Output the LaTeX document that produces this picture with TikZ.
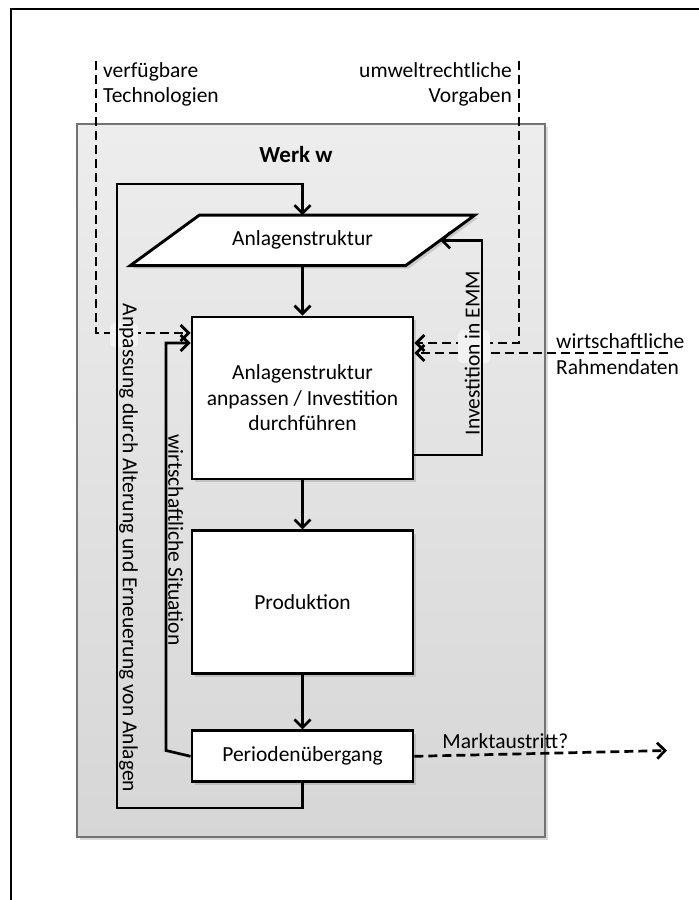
\documentclass[tikz,border=0pt]{standalone}
\usepackage{fontspec}
\setmainfont{Carlito}
\usetikzlibrary{arrows.meta,shadows,positioning}

\tikzset{
  schatten/.style={drop shadow={shadow xshift=3pt,shadow yshift=-3pt,opacity=.3}},
  box/.style={draw,line width=2.9pt,fill=white,minimum width=221pt,inner sep=0pt,align=center,schatten},
  conn/.style={line width=2.7pt,-{Straight Barb[length=8pt,width=16pt]}},
  dconn/.style={conn,dash pattern=on 9pt off 5pt},
  lbl/.style={inner sep=1pt},
}

\begin{document}
\begin{tikzpicture}[x=1pt,y=-1pt,font=\fontsize{21.5}{25.5}\selectfont]
\useasboundingbox (0,0) rectangle (699,900);
% Rahmen
\draw[line width=2.2pt] (11,900) -- (11,9) -- (699,9);
% Werk
\node[draw=black!55,line width=1.2pt,top color=black!7,bottom color=black!16,minimum width=468pt,minimum height=713pt,schatten] (werk) at (311,480.5) {};
\node[font=\fontsize{23}{27}\selectfont\bfseries] (werkname) at (296,155) {Werk w};

% Bausteine
\node[box,minimum height=162pt] (anp) at (302.5,398) {Anlagenstruktur\\anpassen / Investition\\durchführen};
\node[box,minimum height=143pt,below=49pt of anp] (prod) {Produktion};
\node[box,minimum height=51pt,below=54pt of prod] (perio) {Periodenübergang};
\node[minimum width=275pt,minimum height=50pt,inner sep=0pt,above=50pt of anp] (struk) {};
\filldraw[fill=white,line width=2.9pt,schatten] ([xshift=-34.5pt]struk.south west) -- ([xshift=34.5pt]struk.north west) -- ([xshift=34.5pt]struk.north east) -- ([xshift=-34.5pt]struk.south east) -- cycle;
\node (struktext) at (struk) {Anlagenstruktur};

% externe Einfluesse
\coordinate (techOben) at (96,61);
\coordinate (umwOben) at (519,61);
\coordinate (rahmEnde) at (668,353);
\coordinate (marktEnde) at (667,750.5);
\draw[dconn] (techOben) |- ([yshift=65pt]anp.west);
\draw[dconn] (umwOben) |- ([yshift=55pt]anp.east);
\draw[dconn] (rahmEnde) -- ([yshift=45pt]anp.east);
\draw[dconn] (perio.east) -- node[above=1pt,pos=0.36] (marktLbl) {Marktaustritt?} (marktEnde);
\fill[black!5,rounded corners=4pt] (110,323) rectangle (138,347);
\fill[black!5,rounded corners=4pt] (458,330) rectangle (490,363);

\node[align=left,anchor=west,inner sep=0pt] (tech) at (103,84.5) {verfügbare\\Technologien};
\node[align=right,anchor=east,inner sep=0pt] (umw) at (512,84.5) {umweltrechtliche\\Vorgaben};
\node[align=left,anchor=west,inner sep=0pt] (rahm) at (556,354) {wirtschaftliche\\Rahmendaten};

% Ablauf
\draw[conn] (struk.south) -- (anp.north);
\draw[conn] (anp) -- (prod);
\draw[conn] (prod) -- (perio);

% Rueckkopplungen
\coordinate (anpUnten) at (117,808);
\coordinate (anpOben) at (117,184);
\coordinate (sitEck) at (166,750.5);
\coordinate (emmEck) at (482,455);
\draw[conn] (perio.south) |- (anpUnten) -- (anpOben) -| (struk.north);
\draw[conn] (perio.west) -- (sitEck) |- ([yshift=55pt]anp.west);
\draw[conn] ([yshift=-57pt]anp.east) -- (emmEck) |- (struk.east);

\node[lbl,rotate=-90,anchor=south] (anpLbl) at (118,548) {Anpassung durch Alterung und Erneuerung von Anlagen};
\node[lbl,rotate=-90,anchor=south] (sitLbl) at (167,540) {wirtschaftliche Situation};
\node[lbl,rotate=90,anchor=south] (emmLbl) at (481,353) {Investition in EMM};
\end{tikzpicture}
\end{document}
